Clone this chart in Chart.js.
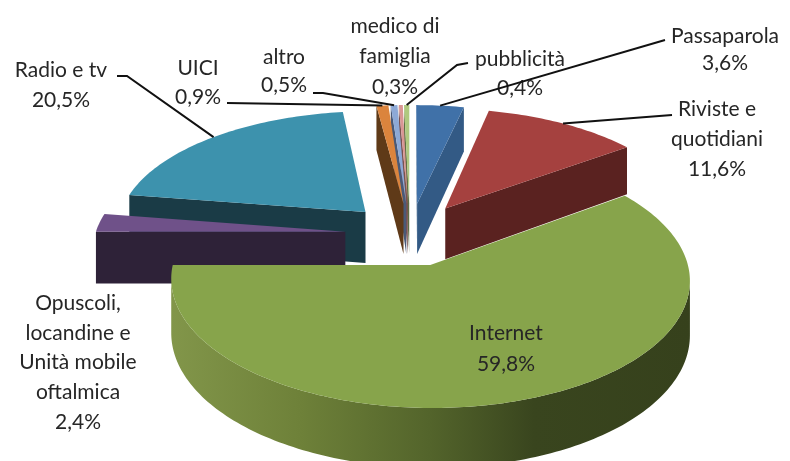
<!DOCTYPE html>
<html>
<head>
<meta charset="utf-8">
<title>Pie</title>
<script src="https://cdn.jsdelivr.net/npm/chart.js@4"></script>
<style>
    html, body { margin: 0; padding: 0; background: #fff; }
    canvas { display: block; }
</style>
</head>
<body>
<canvas id="pieChart" width="790" height="461"></canvas>
<script>
const categories = ['Passaparola', 'Riviste e\nquotidiani', 'Internet', 'Opuscoli,\nlocandine e\nUnità mobile\noftalmica', 'Radio e tv', 'UICI', 'altro', 'medico di\nfamiglia', 'pubblicità'];
const values = [3.6, 11.6, 59.8, 2.4, 20.5, 0.9, 0.5, 0.3, 0.4];
const explode = [65, 65, 65, 65, 65, 65, 65, 65, 65];

const topColors = ['#4071a8', '#a5413f', '#87a44b', '#6f5189', '#3d92ad', '#db843d', '#8da9d6', '#d99694', '#afc97f'];
const wallColors = ['#335a85', '#5a2220', '#5d6e30', '#2e2238', '#1a3b46', '#5f3a18', '#4a5a78', '#7a5250', '#5f6e44'];

// centre of each label block and y of its first line
const labelX = [725, 717, 506, 78, 61, 198, 284, 395, 520];
const labelY = [36, 109, 333, 303, 70, 68, 57, 26, 59];
const lineGap = [27, 30, 31, 29.8, 30, 29, 28, 30.5, 29];

// leader lines: start of the line, then the slice it goes to
const leaders = [
    { slice: 0, from: [[665, 40]] },
    { slice: 1, from: [[672, 115]] },
    { slice: 4, from: [[117, 76], [127, 76]] },
    { slice: 5, from: [[227, 103]] },
    { slice: 6, from: [[313, 93], [323, 93]] },
    { slice: 8, from: [[468, 63], [457, 65]] }
];

// view of the tilted pie
const view = { x: 410, y: 234, radius: 250, tilt: 0.484, perspective: 0.122, depth: 52 };

function project(px, py, lift) {
    const s = 1 + view.perspective * py / view.radius;
    return { x: view.x + px * s, y: view.y + (py * view.tilt + lift) * s };
}

function sliceOutline(arc) {
    const mid = (arc.startAngle + arc.endAngle) / 2;
    const dx = Math.cos(mid) * arc.options.offset;
    const dy = Math.sin(mid) * arc.options.offset;
    const steps = Math.max(2, Math.ceil((arc.endAngle - arc.startAngle) / 0.02));
    const pts = [[dx, dy]];
    for (let i = 0; i <= steps; i++) {
        const a = arc.startAngle + (arc.endAngle - arc.startAngle) * i / steps;
        pts.push([dx + Math.cos(a) * view.radius, dy + Math.sin(a) * view.radius]);
    }
    return pts;
}

function outerPoint(arc) {
    const mid = (arc.startAngle + arc.endAngle) / 2;
    const r = view.radius + arc.options.offset;
    return project(Math.cos(mid) * r, Math.sin(mid) * r, 0);
}

// one wall polygon for a run of outline points that face the viewer
function fillWall(ctx, run) {
    ctx.beginPath();
    run.forEach((p, i) => {
        const q = project(p[0], p[1], 0);
        if (i === 0) ctx.moveTo(q.x, q.y);
        else ctx.lineTo(q.x, q.y);
    });
    run.slice().reverse().forEach(p => {
        const q = project(p[0], p[1], view.depth);
        ctx.lineTo(q.x, q.y);
    });
    ctx.closePath();
    ctx.fill();
}

function drawSlice(ctx, arc, index) {
    const pts = sliceOutline(arc);
    let fill = wallColors[index];
    if (index === 2) {
        const g = ctx.createLinearGradient(170, 0, 690, 0);
        g.addColorStop(0, '#82964a');
        g.addColorStop(0.25, '#6e8139');
        g.addColorStop(0.5, '#53642b');
        g.addColorStop(0.7, '#39451e');
        g.addColorStop(1, '#36411c');
        fill = g;
    }
    ctx.fillStyle = fill;
    let run = [];
    pts.concat([pts[0]]).forEach((p, i, all) => {
        const next = all[i + 1];
        const facing = next && project(next[0], next[1], 0).x < project(p[0], p[1], 0).x;
        if (facing) {
            if (!run.length) run.push(p);
            run.push(next);
        } else if (run.length) {
            fillWall(ctx, run);
            run = [];
        }
    });

    ctx.fillStyle = topColors[index];
    ctx.beginPath();
    pts.forEach((p, i) => {
        const q = project(p[0], p[1], 0);
        if (i === 0) ctx.moveTo(q.x, q.y);
        else ctx.lineTo(q.x, q.y);
    });
    ctx.closePath();
    ctx.fill();
}

const pie3d = {
    id: 'pie3d',
    beforeDatasetsDraw(chart) {
        const ctx = chart.ctx;
        const arcs = chart.getDatasetMeta(0).data;
        // back slices first
        const order = arcs.map((arc, i) => i).sort((a, b) => {
            const ma = (arcs[a].startAngle + arcs[a].endAngle) / 2;
            const mb = (arcs[b].startAngle + arcs[b].endAngle) / 2;
            return Math.sin(ma) - Math.sin(mb);
        });
        ctx.save();
        order.forEach(i => drawSlice(ctx, arcs[i], i));
        ctx.restore();
        return false;
    },
    afterDraw(chart) {
        const ctx = chart.ctx;
        const arcs = chart.getDatasetMeta(0).data;
        ctx.save();
        ctx.font = '21px Lato';
        ctx.textAlign = 'center';
        ctx.textBaseline = 'middle';
        ctx.fillStyle = '#262626';
        categories.forEach((name, i) => {
            const lines = name.split('\n');
            lines.push(values[i].toFixed(1).replace('.', ',') + '%');
            lines.forEach((line, n) => {
                ctx.fillText(line, labelX[i], labelY[i] + n * lineGap[i]);
            });
        });

        ctx.strokeStyle = '#111';
        ctx.lineWidth = 2;
        leaders.forEach(l => {
            const end = outerPoint(arcs[l.slice]);
            ctx.beginPath();
            l.from.forEach((p, n) => {
                if (n === 0) ctx.moveTo(p[0], p[1]);
                else ctx.lineTo(p[0], p[1]);
            });
            ctx.lineTo(end.x, end.y);
            ctx.stroke();
        });
        ctx.restore();
    }
};

new Chart(document.getElementById('pieChart').getContext('2d'), {
    type: 'pie',
    data: {
        labels: categories,
        datasets: [{
            data: values,
            backgroundColor: topColors,
            offset: explode,
            borderWidth: 0
        }]
    },
    options: {
        responsive: false,
        animation: false,
        plugins: {
            legend: { display: false },
            tooltip: { enabled: false }
        }
    },
    plugins: [pie3d]
});
</script>
</body>
</html>
